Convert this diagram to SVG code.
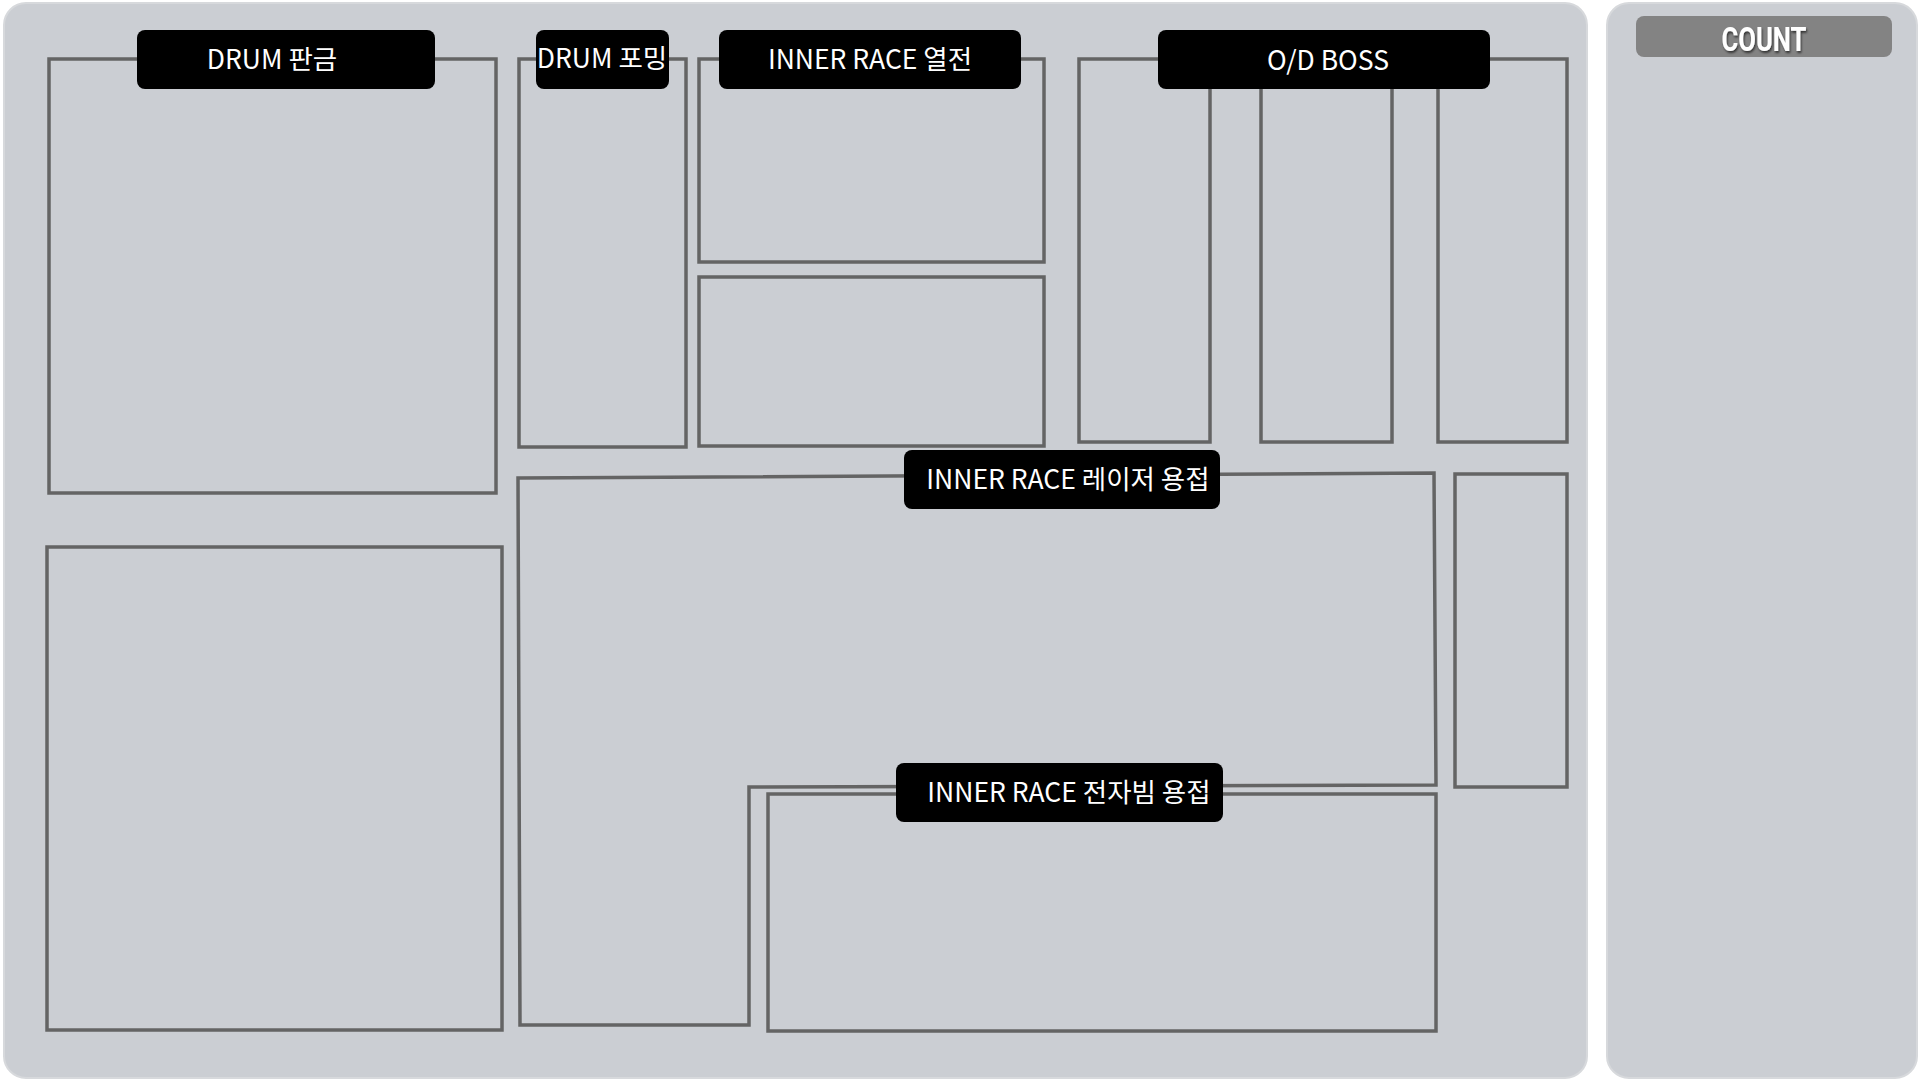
<svg xmlns="http://www.w3.org/2000/svg" width="1920" height="1080" viewBox="0 0 1920 1080">
<defs>
<style>
.panel{fill:#cbced3;stroke:#d7d9dc;stroke-width:2}
.box{fill:none;stroke:#646464;stroke-width:3.5}
.lbl{fill:#000000}
.lt{fill:#ffffff;font-family:"Noto Sans CJK KR","Noto Sans",sans-serif;font-size:26.5px;text-anchor:middle}
.ct{fill:#ffffff;font-family:"Roboto","Liberation Sans",sans-serif;font-weight:bold;font-size:33px;text-anchor:middle}
</style>
<filter id="sh" x="-20%" y="-20%" width="140%" height="160%">
<feDropShadow dx="1" dy="2" stdDeviation="1.2" flood-color="#000" flood-opacity="0.6"/>
</filter>
</defs>
<rect x="0" y="0" width="1920" height="1080" fill="#ffffff"/>
<g id="main-panel">
<rect class="panel" x="4" y="3" width="1583" height="1075" rx="22"/>
</g>
<g id="count-panel">
<rect class="panel" x="1607" y="3" width="310" height="1075" rx="22"/>
<rect x="1636" y="16" width="256" height="41" rx="8" fill="#838383"/>
<text class="ct" x="1764" y="51" textLength="85" lengthAdjust="spacingAndGlyphs" filter="url(#sh)">COUNT</text>
</g>
<g id="connectors"></g>
<g id="drum-pangeum">
<rect class="box" x="49" y="59" width="447" height="434"/>
<rect class="box" x="47" y="547" width="455" height="483"/>
<rect class="lbl" x="137" y="30" width="298" height="59" rx="8"/>
<text class="lt" x="272" y="69">DRUM 판금</text>
</g>
<g id="drum-forming">
<rect class="box" x="519" y="59" width="167" height="388"/>
<rect class="lbl" x="536" y="30" width="133" height="59" rx="8"/>
<text class="lt" x="602" y="68">DRUM 포밍</text>
</g>
<g id="inner-race-yeoljeon">
<rect class="box" x="699" y="59" width="345" height="203"/>
<rect class="box" x="699" y="277" width="345" height="169"/>
<rect class="lbl" x="719" y="30" width="302" height="59" rx="8"/>
<text class="lt" x="870" y="69">INNER RACE 열전</text>
</g>
<g id="od-boss">
<rect class="box" x="1079" y="59" width="131" height="383"/>
<rect class="box" x="1261" y="59" width="131" height="383"/>
<rect class="box" x="1438" y="59" width="129" height="383"/>
<rect class="box" x="1455" y="474" width="112" height="313"/>
<rect class="lbl" x="1158" y="30" width="332" height="59" rx="8"/>
<text class="lt" x="1328" y="70">O/D BOSS</text>
</g>
<g id="inner-race-laser">
<polygon class="box" points="518,478 1434,473 1436,785 749,787 749,1025 520,1025"/>
<rect class="lbl" x="904" y="450" width="316" height="59" rx="8"/>
<text class="lt" x="1068" y="489">INNER RACE 레이저 용접</text>
</g>
<g id="inner-race-ebeam">
<rect class="box" x="768" y="794" width="668" height="237"/>
<rect class="lbl" x="896" y="763" width="327" height="59" rx="8"/>
<text class="lt" x="1069" y="802">INNER RACE 전자빔 용접</text>
</g>
</svg>
